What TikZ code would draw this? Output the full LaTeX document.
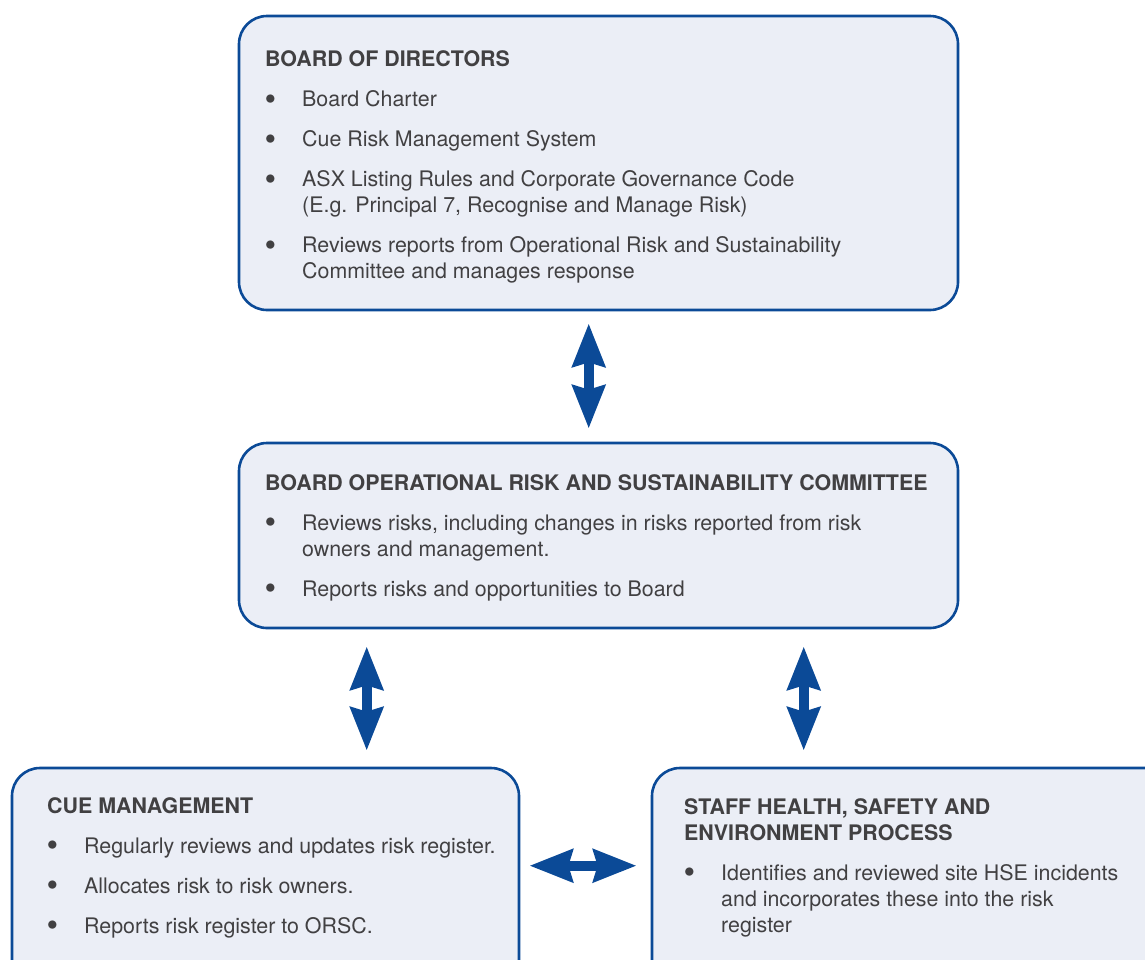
\documentclass[tikz,border=0pt]{standalone}
\usepackage{fontspec}
\setmainfont{TeX Gyre Heros}
\usetikzlibrary{arrows.meta,calc}

\definecolor{cueblue}{HTML}{0B4A97}
\definecolor{cuefill}{HTML}{EBEEF6}
\definecolor{cuetext}{HTML}{414042}

\newcommand{\boxtitle}[1]{\noindent\textbf{#1}\par}
\newcommand{\bitem}[1]{\par\vspace{14pt}\noindent\hangindent=37pt\hangafter=1\makebox[37pt][l]{\hspace{-0.5pt}\raisebox{-3.6pt}{\scalebox{1.55}{\textbullet}}}#1\par}

\begin{document}
\begin{tikzpicture}[x=1pt,y=-1pt,
	panel/.style={draw=cueblue, fill=cuefill, line width=2.6pt, rounded corners=28pt, inner sep=0pt},
	boxtext/.style={anchor=base west, inner sep=0pt, text=cuetext, font=\fontsize{21.4}{26}\selectfont},
	link/.style={{Stealth[length=43pt,width=32pt,inset=4pt]}-{Stealth[length=43pt,width=32pt,inset=4pt]}, line width=10pt, cueblue}]

	\useasboundingbox (0,0) rectangle (1145,959);
	\clip (0,0) rectangle (1145,959);

	% Boxes
	\node[panel, minimum width=719pt, minimum height=294pt] (board) at (598.5,163) {};
	\node[panel, minimum width=719pt, minimum height=185pt] (committee) at (598.5,535.5) {};
	\node[panel, minimum width=507pt, minimum height=222pt] (cue) at (265.5,879) {};
	\node[panel, minimum width=528pt, minimum height=222pt] (staff) at (916,879) {};

	% Texts
	\node[boxtext] (boardtxt) at (265,66.5) {\parbox[t]{680pt}{%
		\boxtitle{BOARD OF DIRECTORS}
		\bitem{Board Charter}
		\bitem{Cue Risk Management System}
		\bitem{ASX Listing Rules and Corporate Governance Code\\(E.g. Principal 7, Recognise and Manage Risk)}
		\bitem{Reviews reports from Operational Risk and Sustainability\\Committee and manages response}}};

	\node[boxtext] (committeetxt) at (265,490) {\parbox[t]{690pt}{%
		\boxtitle{BOARD OPERATIONAL RISK AND SUSTAINABILITY COMMITTEE}
		\bitem{Reviews risks, including changes in risks reported from risk\\owners and management.}
		\bitem{Reports risks and opportunities to Board}}};

	\node[boxtext] (cuetxt) at (47,813) {\parbox[t]{470pt}{%
		\boxtitle{CUE MANAGEMENT}
		\bitem{Regularly reviews and updates risk register.}
		\bitem{Allocates risk to risk owners.}
		\bitem{Reports risk register to ORSC.}}};

	\node[boxtext] (stafftxt) at (684,814) {\parbox[t]{450pt}{%
		\boxtitle{STAFF HEALTH, SAFETY AND\\ENVIRONMENT PROCESS}
		\bitem{Identifies and reviewed site HSE incidents\\and incorporates these into the risk\\register}}};

	% Links
	\draw[link] ($(board.south west)+(351,12)$) -- ($(committee.north west)+(351,-13)$);
	\draw[link] ($(committee.south west)+(129,17)$) -- ($(cue.north west)+(356,-16)$);
	\draw[link] ($(committee.south west)+(566,17)$) -- ($(staff.north west)+(153,-16)$);
	\draw[link] ($(cue.north east)+(9,99)$) -- ($(staff.north west)+(-14,99)$);

\end{tikzpicture}
\end{document}
